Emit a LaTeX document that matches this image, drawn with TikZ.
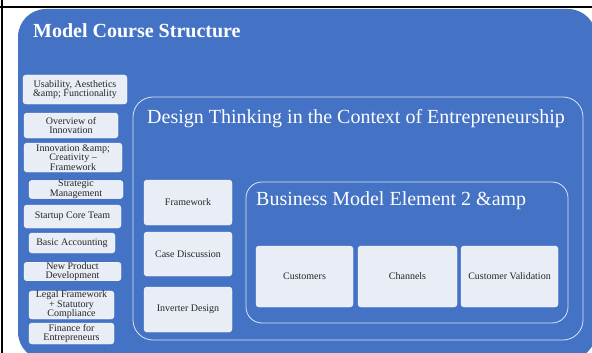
\documentclass[tikz,border=0pt]{standalone}
\usepackage{fontspec}
\setmainfont{Liberation Serif}
\definecolor{panelblue}{HTML}{4472C4}
\definecolor{cardfill}{HTML}{E9EDF6}
\definecolor{cardtext}{HTML}{262626}
\definecolor{rimline}{HTML}{DCE4F4}
\begin{document}
\begin{tikzpicture}[x=1pt,y=-1pt,
  card/.style={fill=cardfill, draw=white, line width=0.4pt, rounded corners=3pt,
    inner sep=0pt, align=center, text=cardtext,
    font=\fontsize{10}{9.5}\selectfont},
  groupframe/.style={draw=rimline, line width=0.8pt, inner sep=0pt},
  heading/.style={text=white, anchor=west, inner sep=0pt,
    font=\fontsize{20}{22}\selectfont}
]
\useasboundingbox (0,0) rectangle (592,353);
\fill[white] (0,0) rectangle (592,353);

% page rules
\draw[black, line width=2pt] (0,7) -- (592,7);
\draw[black, line width=2pt] (2,0) -- (2,353);

% outer panel
\fill[panelblue, rounded corners=28pt] (18,9) rectangle (596,360);
\node[heading, font=\bfseries\fontsize{20}{22}\selectfont] (title) at (33,31) {Model Course Structure};

% left column of course modules
\node[card, minimum width=104pt, minimum height=29pt] (m1) at (75,89.5) {Usability, Aesthetics\\\&amp; Functionality};
\node[card, minimum width=94pt, minimum height=25pt] (m2) at (71,125.5) {Overview of\\Innovation};
\node[card, minimum width=98pt, minimum height=29pt] (m3) at (73,157.5) {Innovation \&amp;\\Creativity –\\Framework};
\node[card, minimum width=94pt, minimum height=15pt] (m4) at (76,189.5) {Strategic\\Management};
\node[card, minimum width=97pt, minimum height=23pt] (m5) at (72.5,216.5) {Startup Core Team};
\node[card, minimum width=86pt, minimum height=20pt] (m6) at (72,243) {Basic Accounting};
\node[card, minimum width=97pt, minimum height=17pt] (m7) at (72.5,271.5) {New Product\\Development};
\node[card, minimum width=85pt, minimum height=26pt] (m8) at (71.5,305) {Legal Framework\\+ Statutory\\Compliance};
\node[card, minimum width=85pt, minimum height=21pt] (m9) at (71.5,333.5) {Finance for\\Entrepreneurs};

% design thinking group
\node[groupframe, rounded corners=20pt, minimum width=450pt, minimum height=243pt] (dt) at (358,218.5) {};
\node[heading] (dttitle) at (147,119) {Design Thinking in the Context of Entrepreneurship};

\node[card, minimum width=88pt, minimum height=45pt] (fw) at (188,202.5) {Framework};
\node[card, minimum width=88pt, minimum height=44pt] (cd) at (188,254) {Case Discussion};
\node[card, minimum width=88pt, minimum height=45pt] (id) at (188,309.5) {Inverter Design};

% business model group
\node[groupframe, rounded corners=16pt, minimum width=322pt, minimum height=141pt] (bm) at (407,252.5) {};
\node[heading] (bmtitle) at (256,201) {Business Model Element 2 \&amp};

\node[card, minimum width=97pt, minimum height=61pt] (cu) at (304.5,276.5) {Customers};
\node[card, minimum width=99pt, minimum height=61pt] (ch) at (407.5,276.5) {Channels};
\node[card, minimum width=97pt, minimum height=61pt] (cv) at (509.5,276.5) {Customer Validation};
\end{tikzpicture}
\end{document}
